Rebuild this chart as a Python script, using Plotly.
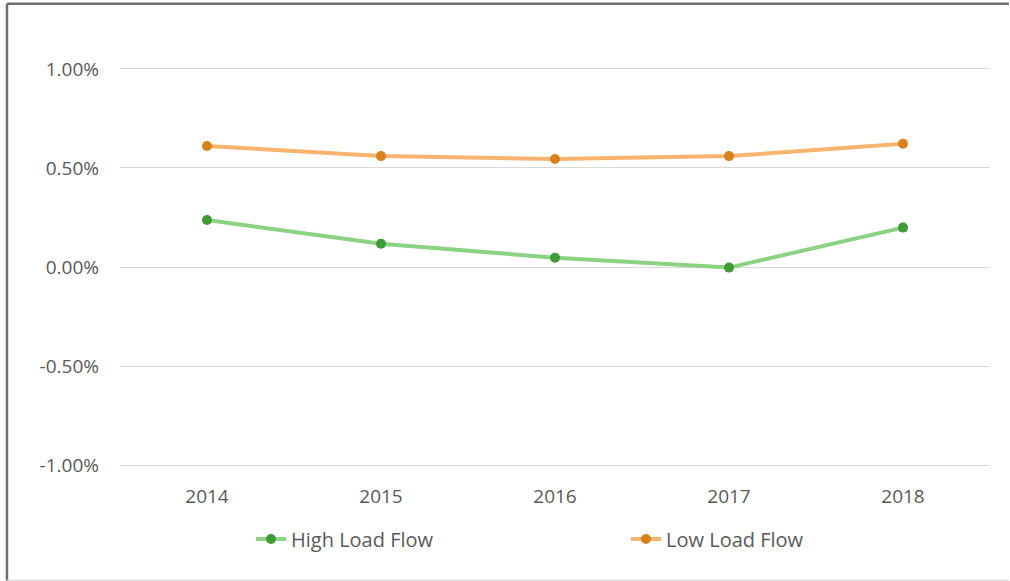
import plotly.graph_objects as go

years = ["2014", "2015", "2016", "2017", "2018"]
high_load = [0.00237, 0.00117, 0.00047, -0.00003, 0.00199]
low_load = [0.00611, 0.00560, 0.00545, 0.00560, 0.00622]
y_ticks = [-0.01, -0.005, 0.0, 0.005, 0.01]
y_tick_labels = ["-1.00%", "-0.50%", "0.00%", "0.50%", "1.00%"]

fig = go.Figure()
fig.add_trace(go.Scatter(
    x=years, y=high_load, name="High Load Flow", mode="lines+markers",
    line=dict(color="#8bd283", width=4),
    marker=dict(color="#3f9a37", size=10),
))
fig.add_trace(go.Scatter(
    x=years, y=low_load, name="Low Load Flow", mode="lines+markers",
    line=dict(color="#f6b46e", width=4),
    marker=dict(color="#d6821f", size=10),
))

font = "Open Sans, Liberation Sans, sans-serif"
fig.update_layout(
    width=1010, height=581,
    margin=dict(l=120, r=20, t=67, b=114, autoexpand=False),
    paper_bgcolor="white", plot_bgcolor="white",
    font=dict(family=font, size=19, color="#595959"),
    showlegend=True,
    legend=dict(
        orientation="h", x=0.1506, xanchor="left", y=-0.18, yanchor="middle",
        font=dict(size=20, color="#595959"), entrywidth=330, entrywidthmode="pixels",
    ),
    xaxis=dict(
        type="category", range=[-0.5, 4.5], showgrid=False, zeroline=False,
        showline=False, ticks="", ticklabelstandoff=16, automargin=False,
        tickfont=dict(size=19, color="#595959"),
    ),
    yaxis=dict(
        range=[-0.0101, 0.0101], tickvals=y_ticks, ticktext=y_tick_labels,
        showgrid=True, gridcolor="#d9d9d9", gridwidth=1, zeroline=False,
        showline=False, ticks="", ticklabelstandoff=20, automargin=False,
        tickfont=dict(size=19, color="#595959"),
    ),
    shapes=[
        dict(type="line", xref="paper", yref="paper", x0=-0.1299, x1=1.0218,
             y0=1.158, y1=1.158, line=dict(color="#6e6e6e", width=2.5), layer="below"),
        dict(type="line", xref="paper", yref="paper", x0=-0.1299, x1=-0.1299,
             y0=1.158, y1=-0.284, line=dict(color="#6e6e6e", width=2.5), layer="below"),
        dict(type="line", xref="paper", yref="paper", x0=-0.1299, x1=1.0218,
             y0=-0.284, y1=-0.284, line=dict(color="#d9d9d9", width=1.5), layer="below"),
    ],
)

fig.write_html("out.html", config={"displayModeBar": False},
               post_script="document.body.style.margin='0px';document.body.style.overflow='hidden';")
